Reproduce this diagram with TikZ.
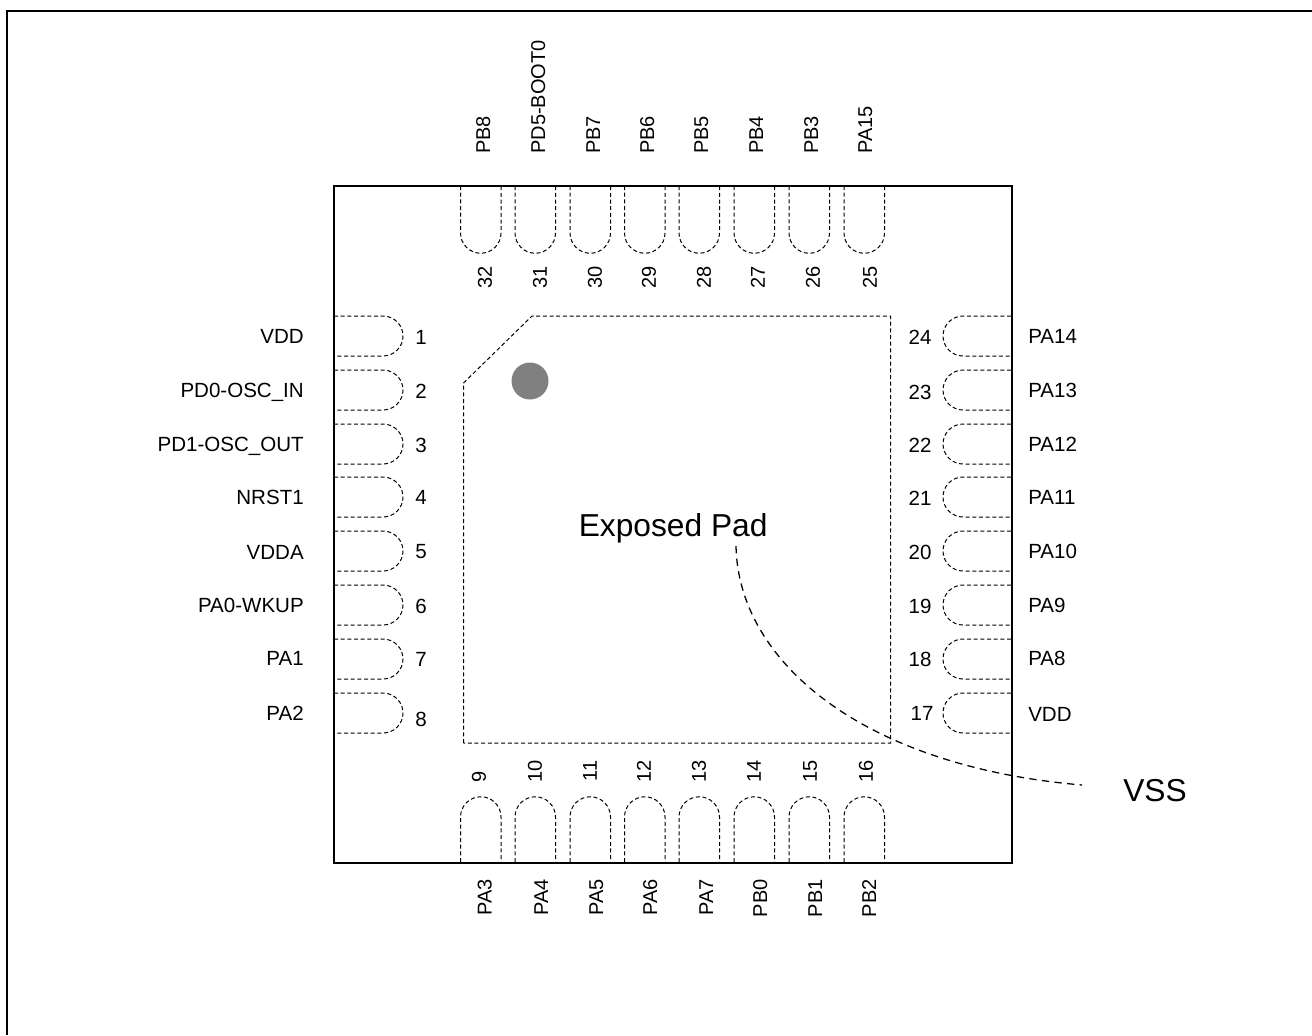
\documentclass[tikz,border=0pt]{standalone}
\usepackage{fontspec}
\setmainfont{Liberation Sans}

\begin{document}
\begin{tikzpicture}[x=0.75pt,y=0.75pt]
\tikzstyle{every node}+=[inner sep=0pt, font=\fontsize{15.4}{18}\selectfont]
\tikzstyle{pinedge}=[black, line width=0.75pt, dash pattern=on 3pt off 2pt]
\tikzstyle{bigtext}=[font=\fontsize{23.8}{28}\selectfont]
\tikzstyle{vert}=[rotate=90, font=\fontsize{15}{18}\selectfont]
\useasboundingbox (0,-1035) rectangle (1312,0);
\draw [black, line width=1.3pt] (7,-1035) -- (7,-11) -- (1312,-11);
\draw [black, line width=1.5pt] (334,-186) rectangle (1011.5,-863);
\draw [pinedge] (463.5,-743) -- (463.5,-383) -- (532,-316) -- (890.5,-316) -- (890.5,-743) -- cycle;
\fill [gray] (530,-381) circle (18.5);
\draw (578.5,-536) node [anchor=base west, bigtext] (pad) {Exposed Pad};
\draw (1123,-801) node [anchor=base west, bigtext] (vss) {VSS};
\coordinate (tail) at (1082,-785);
\coordinate (head) at (736,-546);
\draw [black, line width=0.95pt, dash pattern=on 5.5pt off 4pt] (head) .. controls (738,-660) and (860,-766) .. (tail);
\draw [pinedge] (334,-316) -- (383,-316) arc (90:-90:20) -- (334,-356);
\draw [pinedge] (334,-370) -- (383,-370) arc (90:-90:20) -- (334,-410);
\draw [pinedge] (334,-424) -- (383,-424) arc (90:-90:20) -- (334,-464);
\draw [pinedge] (334,-477) -- (383,-477) arc (90:-90:20) -- (334,-517);
\draw [pinedge] (334,-531) -- (383,-531) arc (90:-90:20) -- (334,-571);
\draw [pinedge] (334,-585) -- (383,-585) arc (90:-90:20) -- (334,-625);
\draw [pinedge] (334,-639) -- (383,-639) arc (90:-90:20) -- (334,-679);
\draw [pinedge] (334,-693) -- (383,-693) arc (90:-90:20) -- (334,-733);
\draw [pinedge] (1011,-316) -- (963,-316) arc (90:270:20) -- (1011,-356);
\draw [pinedge] (1011,-370) -- (963,-370) arc (90:270:20) -- (1011,-410);
\draw [pinedge] (1011,-424) -- (963,-424) arc (90:270:20) -- (1011,-464);
\draw [pinedge] (1011,-477) -- (963,-477) arc (90:270:20) -- (1011,-517);
\draw [pinedge] (1011,-531) -- (963,-531) arc (90:270:20) -- (1011,-571);
\draw [pinedge] (1011,-585) -- (963,-585) arc (90:270:20) -- (1011,-625);
\draw [pinedge] (1011,-639) -- (963,-639) arc (90:270:20) -- (1011,-679);
\draw [pinedge] (1011,-693) -- (963,-693) arc (90:270:20) -- (1011,-733);
\draw [pinedge] (460.5,-186) -- (460.5,-233) arc (180:360:20.25) -- (501,-186);
\draw [pinedge] (515,-186) -- (515,-233) arc (180:360:20.25) -- (555.5,-186);
\draw [pinedge] (570,-186) -- (570,-233) arc (180:360:20.25) -- (610.5,-186);
\draw [pinedge] (624.5,-186) -- (624.5,-233) arc (180:360:20.25) -- (665,-186);
\draw [pinedge] (679,-186) -- (679,-233) arc (180:360:20.25) -- (719.5,-186);
\draw [pinedge] (734,-186) -- (734,-233) arc (180:360:20.25) -- (774.5,-186);
\draw [pinedge] (789,-186) -- (789,-233) arc (180:360:20.25) -- (829.5,-186);
\draw [pinedge] (844,-186) -- (844,-233) arc (180:360:20.25) -- (884.5,-186);
\draw [pinedge] (460.5,-862) -- (460.5,-817) arc (180:0:20.25) -- (501,-862);
\draw [pinedge] (515,-862) -- (515,-817) arc (180:0:20.25) -- (555.5,-862);
\draw [pinedge] (570,-862) -- (570,-817) arc (180:0:20.25) -- (610.5,-862);
\draw [pinedge] (624.5,-862) -- (624.5,-817) arc (180:0:20.25) -- (665,-862);
\draw [pinedge] (679,-862) -- (679,-817) arc (180:0:20.25) -- (719.5,-862);
\draw [pinedge] (734,-862) -- (734,-817) arc (180:0:20.25) -- (774.5,-862);
\draw [pinedge] (789,-862) -- (789,-817) arc (180:0:20.25) -- (829.5,-862);
\draw [pinedge] (844,-862) -- (844,-817) arc (180:0:20.25) -- (884.5,-862);
\draw (421,-337) node (num1) {1};
\draw (421,-391) node (num2) {2};
\draw (421,-445) node (num3) {3};
\draw (421,-497) node (num4) {4};
\draw (421,-552) node (num5) {5};
\draw (421,-606) node (num6) {6};
\draw (421,-659) node (num7) {7};
\draw (421,-719) node (num8) {8};
\draw (479,-777) node [vert] (num9) {9};
\draw (535,-771) node [vert] (num10) {10};
\draw (590,-771) node [vert] (num11) {11};
\draw (644,-771) node [vert] (num12) {12};
\draw (699,-771) node [vert] (num13) {13};
\draw (754,-771) node [vert] (num14) {14};
\draw (810,-771) node [vert] (num15) {15};
\draw (866,-771) node [vert] (num16) {16};
\draw (922,-713) node (num17) {17};
\draw (920,-659) node (num18) {18};
\draw (920,-606) node (num19) {19};
\draw (920,-552) node (num20) {20};
\draw (920,-498) node (num21) {21};
\draw (920,-445) node (num22) {22};
\draw (920,-392) node (num23) {23};
\draw (920,-337) node (num24) {24};
\draw (870,-277) node [vert] (num25) {25};
\draw (813,-277) node [vert] (num26) {26};
\draw (758,-277) node [vert] (num27) {27};
\draw (704,-277) node [vert] (num28) {28};
\draw (649,-277) node [vert] (num29) {29};
\draw (595,-277) node [vert] (num30) {30};
\draw (540,-277) node [vert] (num31) {31};
\draw (485,-277) node [vert] (num32) {32};
\draw (304,-343) node [anchor=base east] (name1) {VDD};
\draw (304,-397) node [anchor=base east] (name2) {PD0-OSC\_IN};
\draw (304,-451) node [anchor=base east] (name3) {PD1-OSC\_OUT};
\draw (304,-504) node [anchor=base east] (name4) {NRST1};
\draw (304,-559) node [anchor=base east] (name5) {VDDA};
\draw (304,-612) node [anchor=base east] (name6) {PA0-WKUP};
\draw (304,-665) node [anchor=base east] (name7) {PA1};
\draw (304,-720) node [anchor=base east] (name8) {PA2};
\draw (491.5,-879) node [vert, anchor=base east] (name9) {PA3};
\draw (548,-879) node [vert, anchor=base east] (name10) {PA4};
\draw (603,-879) node [vert, anchor=base east] (name11) {PA5};
\draw (657,-879) node [vert, anchor=base east] (name12) {PA6};
\draw (713,-879) node [vert, anchor=base east] (name13) {PA7};
\draw (767,-879) node [vert, anchor=base east] (name14) {PB0};
\draw (822,-879) node [vert, anchor=base east] (name15) {PB1};
\draw (876,-879) node [vert, anchor=base east] (name16) {PB2};
\draw (1028,-721) node [anchor=base west] (name17) {VDD};
\draw (1028,-665) node [anchor=base west] (name18) {PA8};
\draw (1028,-612) node [anchor=base west] (name19) {PA9};
\draw (1028,-558) node [anchor=base west] (name20) {PA10};
\draw (1028,-504) node [anchor=base west] (name21) {PA11};
\draw (1028,-451) node [anchor=base west] (name22) {PA12};
\draw (1028,-397) node [anchor=base west] (name23) {PA13};
\draw (1028,-343) node [anchor=base west] (name24) {PA14};
\draw (872,-154) node [vert, anchor=base west] (name25) {PA15};
\draw (818,-154) node [vert, anchor=base west] (name26) {PB3};
\draw (763,-154) node [vert, anchor=base west] (name27) {PB4};
\draw (708,-154) node [vert, anchor=base west] (name28) {PB5};
\draw (654,-154) node [vert, anchor=base west] (name29) {PB6};
\draw (600,-154) node [vert, anchor=base west] (name30) {PB7};
\draw (545,-154) node [vert, anchor=base west] (name31) {PD5-BOOT0};
\draw (490,-154) node [vert, anchor=base west] (name32) {PB8};
\end{tikzpicture}
\end{document}
